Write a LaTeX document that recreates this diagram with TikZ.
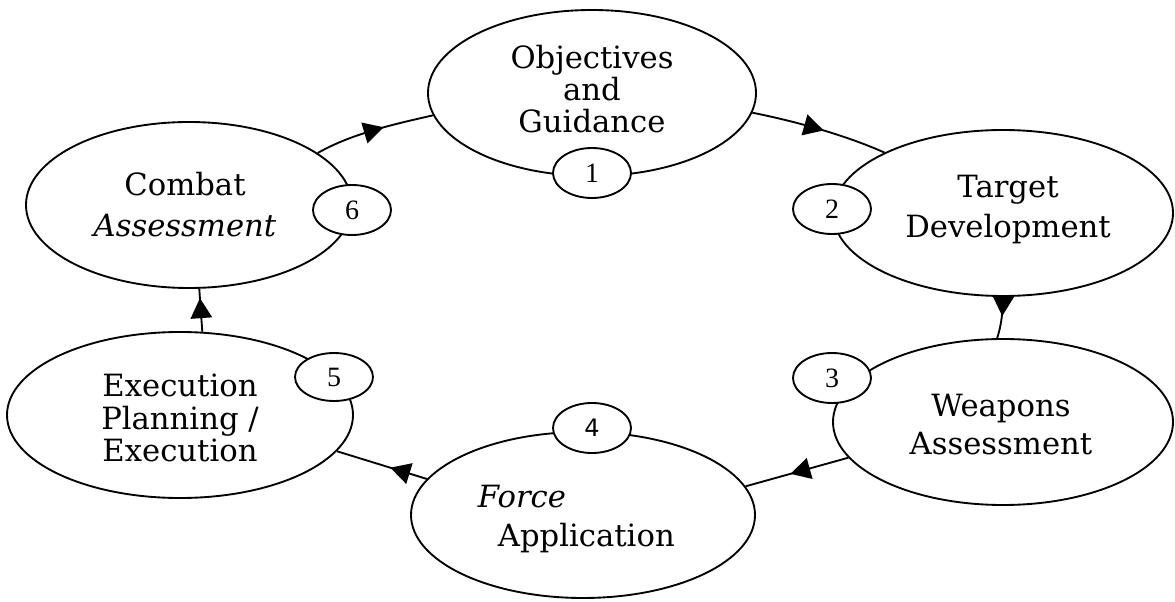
\documentclass[tikz,border=0pt]{standalone}
\usepackage{fontspec}
\setmainfont{DejaVu Serif}
\newfontfamily\numfont{Liberation Serif}
\newfontfamily\numsansfont{DejaVu Sans}
\usetikzlibrary{shapes.geometric,arrows.meta,decorations.markings}
\begin{document}
\begin{tikzpicture}[x=0.75pt,y=-0.75pt,
  line width=1.4pt,
  bigell/.style={draw, ellipse, inner sep=0pt, minimum height=124.5pt},
  numell/.style={draw, fill=white, ellipse, inner sep=0pt, minimum width=58.5pt,
    minimum height=37.5pt, font=\numfont\fontsize{21}{23}\selectfont},
  lbl/.style={inner sep=0pt, align=center},
  conn/.style={postaction={decorate}, decoration={markings,
    mark=at position #1 with {\arrow[xshift=7.5pt]{Triangle[length=15pt,width=16pt]}}}},
]
\useasboundingbox (0,0) rectangle (1175,602);

% main ellipses
\node[bigell, minimum width=246pt]   (obj) at (592,93)  {};
\node[bigell, minimum width=255pt]   (tgt) at (1003,213) {};
\node[bigell, minimum width=255pt]   (wpn) at (1003,422) {};
\node[bigell, minimum width=258pt]   (frc) at (583,515) {};
\node[bigell, minimum width=259.5pt] (exe) at (180,415) {};
\node[bigell, minimum width=244.5pt] (cmb) at (189,205) {};

% texts
\node[lbl, font=\fontsize{23}{24}\selectfont] (tobj) at (592,89) {Objectives\\and\\Guidance};
\node[lbl, font=\fontsize{23}{31}\selectfont] (tcmb) at (185,204.5) {Combat\\\textit{Assessment}};
\node[lbl, font=\fontsize{23}{30}\selectfont] (ttgt) at (1008,209.5) {Target\\Development};
\node[lbl, font=\fontsize{23}{28.5}\selectfont] (twpn) at (1001,424.5) {Weapons\\Assessment};
\node[lbl, font=\fontsize{23}{24.5}\selectfont] (texe) at (180,418) {Execution\\Planning /\\Execution};
\node[lbl, align=left, anchor=west, font=\fontsize{23}{29}\selectfont] (tfrc) at (477,519) {\textit{Force}\\\hspace*{15pt}Application};

% connectors
\draw[conn=0.5] (cmb.22) .. controls +(35,-20) and +(-35,8) .. (obj.188);
\draw[conn=0.46] (obj.-7) .. controls +(40,8) and +(-40,-18) .. (tgt.153);
\draw[conn=0.22] (tgt.-90) .. controls +(0,15) and +(4,-12) .. (wpn.94);
\draw[conn=0.47] (wpn.193) -- (frc.10);
\draw[conn=0.3] (frc.167) -- (exe.-13);
\draw[conn=0.55] (exe.75) .. controls +(-1,-15) and +(1,15) .. (cmb.-83);

% number ellipses
\node[numell] (n1) at (592,173) {1};
\node[numell] (n2) at (832,209) {2};
\node[numell] (n3) at (832,378) {3};
\node[numell, font=\numsansfont\fontsize{18}{20}\selectfont] (n4) at (592,428) {4};
\node[numell, minimum height=36pt] (n5) at (334,377) {5};
\node[numell] (n6) at (352,210) {6};
\end{tikzpicture}
\end{document}
